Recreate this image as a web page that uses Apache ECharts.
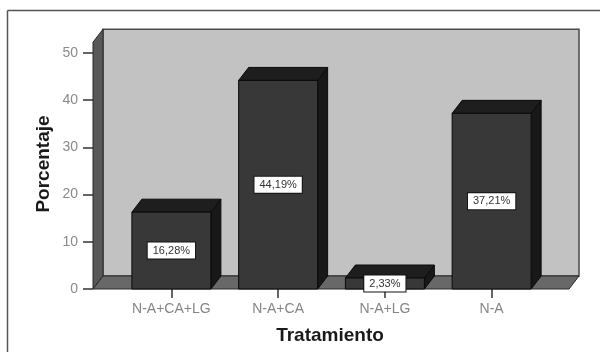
<!DOCTYPE html>
<html>
<head>
<meta charset="utf-8">
<script src="https://cdn.jsdelivr.net/npm/echarts@6/dist/echarts.min.js"></script>
<style>
  html, body { margin: 0; padding: 0; background: #ffffff; }
  #chart { width: 600px; height: 352px; }
</style>
</head>
<body>
<div id="chart"></div>
<script>
// Treatment groups and their share of cases (%)
const categories = ['N-A+CA+LG', 'N-A+CA', 'N-A+LG', 'N-A'];
const percentages = [16.28, 44.19, 2.33, 37.21];
const yTickValues = [0, 10, 20, 30, 40, 50];

const FONT = '"Liberation Sans", Arial, sans-serif';
const DEPTH_X = 10;   // oblique depth of the 3D box
const DEPTH_Y = -13;
const BAR_HALF = 39.5;
const WALL_TOP = 52.3; // top of the walls in axis units

function fmt(v) {
  return v.toFixed(2).replace('.', ',') + '%';
}

// Back wall, left wall and floor of the 3D room
function renderRoom(params, api) {
  const cs = params.coordSys;
  const xL = cs.x - 25;
  const xR = cs.x + cs.width + 24;
  const yT = api.coord([0, WALL_TOP])[1];
  const yB = api.coord([0, 0])[1];
  const dx = DEPTH_X, dy = DEPTH_Y;
  const edge = { stroke: '#2a2a2a', lineWidth: 1 };
  return {
    type: 'group',
    children: [
      { type: 'rect', shape: { x: xL + dx, y: yT + dy, width: xR - xL, height: yB - yT },
        style: { fill: '#c2c2c2', stroke: '#4a4a4a', lineWidth: 1.5 } },
      { type: 'polygon', shape: { points: [[xL, yT], [xL + dx, yT + dy], [xL + dx, yB + dy], [xL, yB]] },
        style: Object.assign({ fill: '#585858' }, edge) },
      { type: 'polygon', shape: { points: [[xL, yB], [xL + dx, yB + dy], [xR + dx, yB + dy], [xR, yB]] },
        style: Object.assign({ fill: '#686868' }, edge) }
    ]
  };
}

// Each bar drawn as an oblique 3D box with its value label in the middle of the front face
function renderBar(params, api) {
  const idx = api.value(0);
  const val = api.value(1);
  const top = api.coord([idx, val]);
  const base = api.coord([idx, 0]);
  const cx = top[0];
  const L = cx - BAR_HALF, R = cx + BAR_HALF;
  const yT = top[1], yB = base[1];
  const dx = DEPTH_X, dy = DEPTH_Y;
  const edge = { stroke: '#0a0a0a', lineWidth: 1 };
  return {
    type: 'group',
    children: [
      { type: 'polygon', shape: { points: [[R, yT], [R + dx, yT + dy], [R + dx, yB + dy], [R, yB]] },
        style: Object.assign({ fill: '#181818' }, edge) },
      { type: 'polygon', shape: { points: [[L, yT], [L + dx, yT + dy], [R + dx, yT + dy], [R, yT]] },
        style: Object.assign({ fill: '#1e1e1e' }, edge) },
      { type: 'rect', shape: { x: L, y: yT, width: R - L, height: yB - yT },
        style: Object.assign({ fill: '#383838' }, edge) },
      { type: 'text', z2: 10,
        style: {
          text: fmt(val), x: cx, y: (yT + yB) / 2,
          align: 'center', verticalAlign: 'middle',
          fill: '#333333', font: '11px ' + FONT,
          backgroundColor: '#ffffff', borderColor: '#111111', borderWidth: 1,
          padding: [3, 5, 2, 5]
        } }
    ]
  };
}

const chart = echarts.init(document.getElementById('chart'), null, { renderer: 'canvas' });

chart.setOption({
  backgroundColor: '#ffffff',
  animation: false,
  grid: { left: 118, width: 427, top: 53, height: 236, containLabel: false },
  xAxis: {
    type: 'category',
    data: categories,
    boundaryGap: true,
    axisLine: { show: false },
    axisTick: { show: true, alignWithLabel: true, length: 9, lineStyle: { color: '#333333', width: 1.5 } },
    axisLabel: { margin: 13, color: '#858585', fontSize: 14, fontFamily: FONT },
    splitLine: { show: false }
  },
  yAxis: {
    type: 'value',
    min: yTickValues[0],
    max: yTickValues[yTickValues.length - 1],
    interval: yTickValues[1] - yTickValues[0],
    offset: 25,
    axisLine: { show: false },
    axisTick: { show: true, length: 10, lineStyle: { color: '#333333', width: 1.5 } },
    axisLabel: { margin: 15, color: '#8a8a8a', fontSize: 14, fontFamily: FONT },
    splitLine: { show: false }
  },
  graphic: [
    { type: 'line', shape: { x1: 7.5, y1: 10.5, x2: 600, y2: 10.5 }, style: { stroke: '#555555', lineWidth: 1.5 } },
    { type: 'line', shape: { x1: 7.5, y1: 10.5, x2: 7.5, y2: 352 }, style: { stroke: '#555555', lineWidth: 1.5 } },
    { type: 'text', x: 44, y: 164, rotation: Math.PI / 2,
      style: { text: 'Porcentaje', align: 'center', verticalAlign: 'middle', fill: '#1a1a1a',
               font: 'bold 19px ' + FONT } },
    { type: 'text', x: 330, y: 336,
      style: { text: 'Tratamiento', align: 'center', verticalAlign: 'middle', fill: '#1a1a1a',
               font: 'bold 19px ' + FONT } }
  ],
  series: [
    { type: 'custom', z: 1, silent: true, renderItem: renderRoom, data: [[0, 0]], clip: false },
    { type: 'custom', z: 2, renderItem: renderBar, clip: false,
      data: percentages.map((v, i) => [i, v]) }
  ]
});
</script>
</body>
</html>
